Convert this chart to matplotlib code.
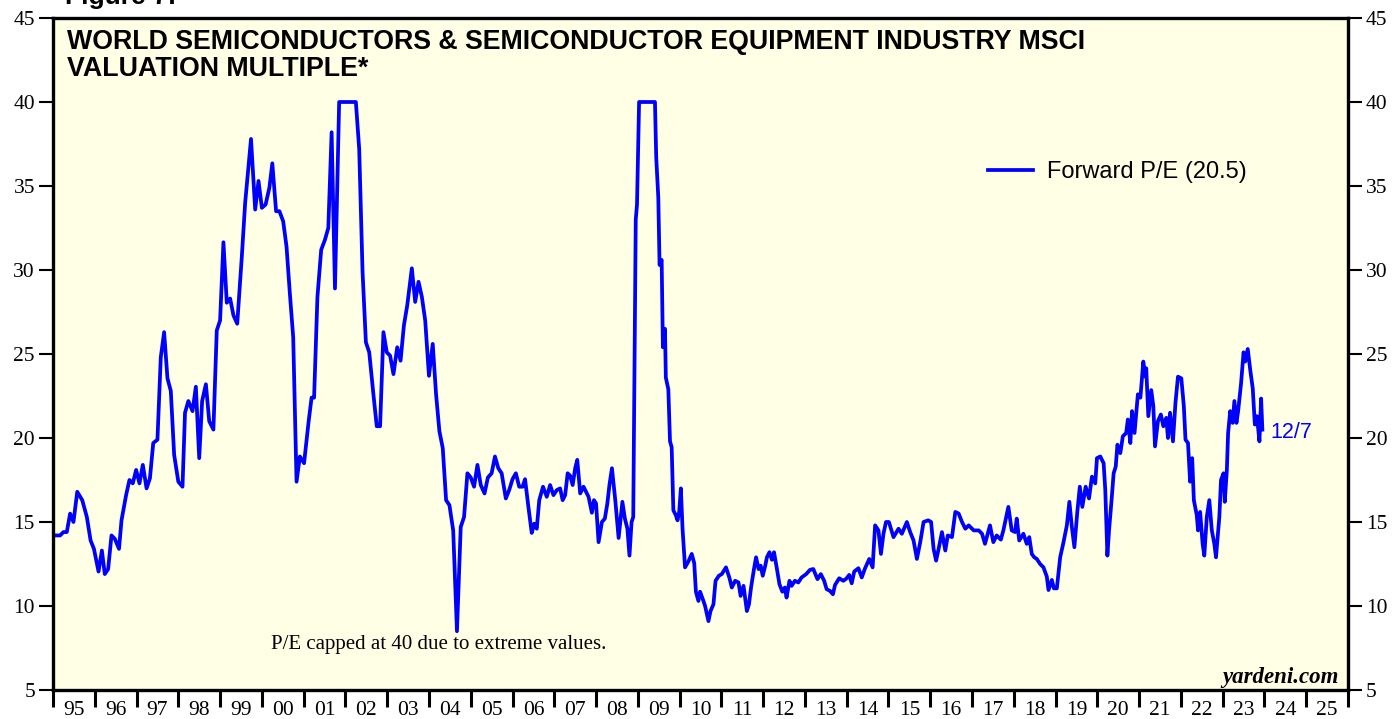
import matplotlib
matplotlib.use("Agg")
import matplotlib.pyplot as plt
import numpy as np

# decimal year, forward P/E (capped at 40)
years = [
    1995.00, 1995.07, 1995.17, 1995.25, 1995.33, 1995.41, 1995.49, 1995.58, 1995.70, 1995.81,
    1995.90, 1995.98, 1996.09, 1996.17, 1996.24, 1996.32, 1996.40, 1996.48, 1996.58, 1996.64,
    1996.75, 1996.83, 1996.91, 1996.99, 1997.07, 1997.15, 1997.24, 1997.32, 1997.40, 1997.50,
    1997.58, 1997.66, 1997.74, 1997.82, 1997.90, 1998.00, 1998.10, 1998.16, 1998.24, 1998.34,
    1998.42, 1998.50, 1998.57, 1998.66, 1998.74, 1998.84, 1998.92, 1999.00, 1999.08, 1999.16,
    1999.24, 1999.32, 1999.41, 1999.52, 1999.60, 1999.74, 1999.84, 1999.92, 2000.00, 2000.09,
    2000.18, 2000.25, 2000.34, 2000.42, 2000.51, 2000.59, 2000.67, 2000.75, 2000.83, 2000.91,
    2001.01, 2001.12, 2001.19, 2001.25, 2001.33, 2001.42, 2001.51, 2001.59, 2001.67, 2001.75,
    2001.85, 2002.25, 2002.33, 2002.41, 2002.49, 2002.57, 2002.67, 2002.75, 2002.83, 2002.91,
    2002.99, 2003.07, 2003.15, 2003.24, 2003.32, 2003.40, 2003.48, 2003.59, 2003.67, 2003.75,
    2003.83, 2003.91, 2004.00, 2004.09, 2004.17, 2004.25, 2004.33, 2004.41, 2004.49, 2004.58,
    2004.67, 2004.76, 2004.84, 2004.92, 2005.00, 2005.08, 2005.16, 2005.24, 2005.33, 2005.41,
    2005.50, 2005.58, 2005.66, 2005.74, 2005.84, 2005.92, 2006.00, 2006.08, 2006.16, 2006.24,
    2006.30, 2006.38, 2006.46, 2006.52, 2006.58, 2006.64, 2006.73, 2006.82, 2006.90, 2006.98,
    2007.06, 2007.14, 2007.20, 2007.26, 2007.32, 2007.38, 2007.44, 2007.50, 2007.55, 2007.62,
    2007.70, 2007.76, 2007.82, 2007.90, 2007.95, 2008.00, 2008.06, 2008.14, 2008.21, 2008.27,
    2008.32, 2008.38, 2008.46, 2008.54, 2008.63, 2008.69, 2008.75, 2008.80, 2008.85, 2008.89,
    2008.95, 2008.98, 2009.03, 2009.41, 2009.44, 2009.49, 2009.52, 2009.57, 2009.60, 2009.65,
    2009.67, 2009.73, 2009.77, 2009.81, 2009.85, 2009.91, 2009.95, 2009.99, 2010.03, 2010.07,
    2010.13, 2010.21, 2010.29, 2010.35, 2010.39, 2010.45, 2010.49, 2010.57, 2010.61, 2010.69,
    2010.74, 2010.81, 2010.86, 2010.94, 2011.01, 2011.11, 2011.19, 2011.25, 2011.33, 2011.41,
    2011.46, 2011.53, 2011.61, 2011.66, 2011.71, 2011.78, 2011.83, 2011.89, 2011.94, 2011.99,
    2012.05, 2012.09, 2012.15, 2012.21, 2012.26, 2012.33, 2012.39, 2012.46, 2012.52, 2012.56,
    2012.63, 2012.68, 2012.76, 2012.84, 2012.92, 2013.03, 2013.12, 2013.20, 2013.30, 2013.38,
    2013.46, 2013.52, 2013.60, 2013.67, 2013.72, 2013.82, 2013.92, 2014.00, 2014.06, 2014.12,
    2014.18, 2014.28, 2014.36, 2014.44, 2014.54, 2014.62, 2014.68, 2014.76, 2014.82, 2014.88,
    2014.94, 2015.01, 2015.12, 2015.24, 2015.32, 2015.44, 2015.52, 2015.60, 2015.68, 2015.76,
    2015.84, 2015.95, 2016.02, 2016.08, 2016.14, 2016.20, 2016.28, 2016.36, 2016.42, 2016.52,
    2016.60, 2016.68, 2016.76, 2016.84, 2016.92, 2017.04, 2017.16, 2017.24, 2017.31, 2017.43,
    2017.51, 2017.59, 2017.69, 2017.75, 2017.87, 2017.95, 2018.03, 2018.07, 2018.13, 2018.23,
    2018.31, 2018.37, 2018.43, 2018.49, 2018.55, 2018.63, 2018.71, 2018.79, 2018.83, 2018.91,
    2018.96, 2019.03, 2019.11, 2019.19, 2019.27, 2019.33, 2019.39, 2019.45, 2019.52, 2019.58,
    2019.64, 2019.72, 2019.80, 2019.87, 2019.95, 2019.99, 2020.07, 2020.15, 2020.19, 2020.24,
    2020.28, 2020.34, 2020.39, 2020.44, 2020.48, 2020.55, 2020.61, 2020.69, 2020.73, 2020.79,
    2020.83, 2020.89, 2020.97, 2021.03, 2021.10, 2021.15, 2021.17, 2021.22, 2021.29, 2021.34,
    2021.38, 2021.45, 2021.52, 2021.58, 2021.65, 2021.69, 2021.74, 2021.81, 2021.87, 2021.93,
    2022.01, 2022.07, 2022.11, 2022.17, 2022.22, 2022.27, 2022.31, 2022.38, 2022.41, 2022.46,
    2022.52, 2022.56, 2022.62, 2022.68, 2022.74, 2022.80, 2022.84, 2022.92, 2022.96, 2023.02,
    2023.05, 2023.10, 2023.13, 2023.18, 2023.24, 2023.28, 2023.33, 2023.37, 2023.44, 2023.50,
    2023.54, 2023.60, 2023.66, 2023.72, 2023.77, 2023.82, 2023.88, 2023.92, 2023.95,
]
forward_pe = [
    14.2, 14.2, 14.2, 14.4, 14.4, 15.5, 15.0, 16.8, 16.3, 15.3,
    13.9, 13.4, 12.05, 13.3, 11.9, 12.2, 14.2, 14.0, 13.4, 15.1,
    16.6, 17.5, 17.3, 18.1, 17.3, 18.4, 17.0, 17.6, 19.7, 19.9,
    24.8, 26.3, 23.55, 22.8, 19.0, 17.4, 17.1, 21.5, 22.2, 21.6,
    23.05, 18.8, 22.2, 23.2, 21.0, 20.5, 26.4, 27.0, 31.65, 28.05,
    28.3, 27.3, 26.8, 30.8, 34.0, 37.8, 33.6, 35.3, 33.7, 33.9,
    34.9, 36.35, 33.5, 33.5, 32.9, 31.4, 28.6, 26.0, 17.4, 18.9,
    18.5, 21.0, 22.4, 22.4, 28.4, 31.2, 31.8, 32.5, 38.2, 28.9,
    40.0, 40.0, 37.2, 29.9, 25.7, 25.1, 22.6, 20.7, 20.7, 26.3,
    25.1, 24.9, 23.8, 25.4, 24.6, 26.7, 27.9, 30.1, 28.1, 29.3,
    28.4, 27.0, 23.7, 25.6, 22.6, 20.4, 19.4, 16.3, 16.0, 14.5,
    8.5, 14.7, 15.3, 17.9, 17.65, 17.1, 18.4, 17.2, 16.7, 17.65,
    17.9, 18.9, 18.2, 17.9, 16.4, 16.9, 17.55, 17.9, 17.1, 17.1,
    17.55, 15.9, 14.35, 14.9, 14.6, 16.3, 17.1, 16.5, 17.2, 16.6,
    16.9, 17.0, 16.3, 16.6, 17.9, 17.75, 17.2, 18.2, 18.7, 16.7,
    17.1, 16.8, 16.5, 15.55, 16.3, 16.1, 13.8, 15.0, 15.2, 16.1,
    17.2, 18.2, 16.3, 14.05, 16.2, 15.2, 14.6, 13.0, 15.0, 15.3,
    33.0, 33.9, 40.0, 40.0, 36.7, 34.3, 30.3, 30.6, 25.4, 26.5,
    23.6, 22.9, 19.8, 19.45, 15.7, 15.4, 15.1, 15.6, 17.0, 14.6,
    12.3, 12.65, 13.1, 12.55, 10.85, 10.3, 10.85, 10.3, 10.0, 9.1,
    9.7, 10.1, 11.5, 11.8, 11.9, 12.3, 11.7, 11.1, 11.5, 11.4,
    10.6, 11.2, 9.7, 10.1, 11.1, 12.2, 12.9, 12.2, 12.4, 11.8,
    12.4, 12.9, 13.2, 12.75, 13.2, 12.2, 11.3, 10.85, 11.1, 10.5,
    11.5, 11.2, 11.5, 11.4, 11.7, 11.9, 12.15, 12.2, 11.6, 11.9,
    11.5, 11.0, 10.9, 10.7, 11.25, 11.65, 11.5, 11.65, 11.85, 11.35,
    12.05, 12.25, 11.7, 12.25, 12.8, 12.3, 14.8, 14.5, 13.1, 14.3,
    15.0, 15.0, 14.1, 14.6, 14.3, 15.0, 14.4, 13.9, 12.8, 13.8,
    15.0, 15.1, 15.0, 13.4, 12.7, 13.4, 14.4, 13.3, 14.2, 14.1,
    15.6, 15.5, 15.0, 14.6, 14.8, 14.5, 14.5, 14.3, 13.7, 14.8,
    13.8, 14.2, 13.95, 14.5, 15.9, 14.5, 14.4, 15.2, 13.9, 14.3,
    13.7, 14.1, 13.1, 12.9, 12.8, 12.5, 12.3, 11.75, 10.95, 11.55,
    11.05, 11.05, 12.9, 13.8, 14.8, 16.2, 14.7, 13.5, 15.6, 17.1,
    15.9, 17.1, 16.4, 17.7, 17.3, 18.8, 18.9, 18.5, 16.9, 13.0,
    14.5, 16.3, 17.9, 18.3, 19.6, 19.1, 20.1, 20.3, 21.1, 19.7,
    21.6, 20.3, 22.6, 22.4, 24.55, 23.65, 24.15, 21.3, 22.85, 21.9,
    19.5, 21.0, 21.4, 20.7, 21.2, 20.0, 21.5, 19.8, 22.1, 23.65,
    23.55, 21.9, 19.9, 19.7, 17.4, 18.8, 16.3, 15.4, 14.5, 15.6,
    13.7, 13.0, 15.3, 16.3, 14.5, 13.7, 12.9, 15.3, 17.5, 17.9,
    16.2, 18.1, 20.3, 21.6, 20.9, 22.2, 20.9, 21.6, 23.25, 25.1,
    24.55, 25.3, 24.05, 22.95, 20.8, 21.3, 19.8, 22.35, 20.5,
]

year_labels = ["95", "96", "97", "98", "99", "00", "01", "02", "03", "04", "05",
               "06", "07", "08", "09", "10", "11", "12", "13", "14", "15", "16",
               "17", "18", "19", "20", "21", "22", "23", "24", "25"]
y_ticks = [5, 10, 15, 20, 25, 30, 35, 40, 45]
latest_date = "12/7"

BLUE = "#0000FF"
SANS = ["Liberation Sans", "DejaVu Sans"]
SERIF = ["Liberation Serif", "DejaVu Serif"]

fig = plt.figure(figsize=(13.95, 7.19), dpi=100)
ax = fig.add_axes([53 / 1395, 1 - 690 / 719, 1295 / 1395, 672 / 719])
ax.set_facecolor("#FFFFE5")

ax.plot(years, forward_pe, color=BLUE, linewidth=2.7,
        solid_joinstyle="round", label=f"Forward P/E ({forward_pe[-1]:.1f})")

ax.set_xlim(1995, 2026)
ax.set_ylim(5, 45)

# y axis on both sides
ax.set_yticks(y_ticks)
ax.tick_params(axis="y", which="major", direction="out", length=10, width=1.5,
               pad=3, labelsize=15.5, left=True, right=True,
               labelleft=True, labelright=True)
for lab in ax.get_yticklabels():
    lab.set_fontfamily(SERIF)

# x axis: year boundaries as ticks, labels centred in each year
start = 1995
ax.set_xticks(np.arange(start, start + len(year_labels) + 1))
ax.set_xticklabels([])
ax.set_xticks(np.arange(start, start + len(year_labels)) + 0.5, minor=True)
ax.set_xticklabels(year_labels, minor=True, fontfamily=SERIF)
ax.tick_params(axis="x", which="major", direction="out", length=12, width=2.2)
ax.tick_params(axis="x", which="minor", length=0, pad=8, labelsize=15.5)

for spine in ax.spines.values():
    spine.set_linewidth(2.4)

ax.text(0.0108, 0.983,
        "WORLD SEMICONDUCTORS & SEMICONDUCTOR EQUIPMENT INDUSTRY MSCI\nVALUATION MULTIPLE*",
        transform=ax.transAxes, ha="left", va="top", fontsize=19.3,
        fontweight="bold", fontfamily=SANS, linespacing=1.02)

ax.legend(loc="center left", bbox_to_anchor=(0.722, 0.771), frameon=False,
          handlelength=1.9, handletextpad=0.6, borderpad=0,
          borderaxespad=0, prop={"family": SANS, "size": 17})

ax.text(years[-1] + 0.18, forward_pe[-1] - 0.15, latest_date, color=BLUE,
        ha="left", va="center", fontsize=15.5, fontfamily=SANS)

ax.text(0.298, 0.068, "P/E capped at 40 due to extreme values.",
        transform=ax.transAxes, ha="center", va="center", fontsize=15,
        fontfamily=SERIF)

ax.text(0.9925, 0.019, "yardeni.com", transform=ax.transAxes, ha="right",
        va="center", fontsize=16.5, fontweight="bold", fontstyle="italic",
        fontfamily=SERIF)

fig.text(65 / 1395, 1 - 4 / 719, "Figure 7:", ha="left", va="baseline",
         fontsize=19, fontweight="bold", fontfamily=SANS)

fig.savefig("out.png", dpi=100, facecolor="white")
